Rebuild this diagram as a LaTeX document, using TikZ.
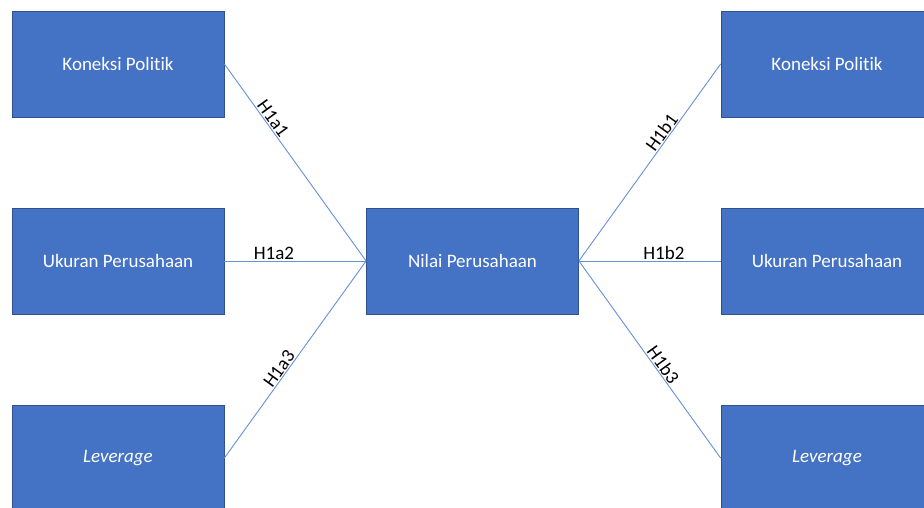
\documentclass[tikz,border=0pt]{standalone}
\usepackage{fontspec}
\setmainfont{Carlito}[Ligatures=NoCommon]
\definecolor{boxfill}{HTML}{4472C4}
\definecolor{boxline}{HTML}{2F528F}
\definecolor{linkline}{RGB}{100,145,215}
\begin{document}
\begin{tikzpicture}[x=1pt, y=-1pt,
    var/.style={draw=boxline, line width=0.8pt, fill=boxfill, text=white,
        minimum width=212pt, minimum height=106pt, inner sep=0pt,
        font=\fontsize{19}{22}\selectfont},
    link/.style={draw=linkline, line width=0.9pt},
    hyp/.style={sloped, above, inner sep=1pt, font=\fontsize{19}{22}\selectfont}]
    \useasboundingbox (0,0) rectangle (924,508);

    % left column: x 12..224
    \node[var] (kpa) at (118,64)  {Koneksi Politik};
    \node[var] (upa) at (118,261) {Ukuran Perusahaan};
    \node[var] (lva) at (118,458) {\itshape Leverage};

    % centre
    \node[var] (nilai) at (472.5,261) {Nilai Perusahaan};

    % right column: x 721..933 (cut at page edge)
    \node[var] (kpb) at (827,64)  {Koneksi Politik};
    \node[var] (upb) at (827,261) {Ukuran Perusahaan};
    \node[var] (lvb) at (827,458) {\itshape Leverage};

    % H1a
    \draw[link] (kpa.east) -- node[hyp, pos=0.30] {H1a1} (nilai.west);
    \draw[link] (upa.east) -- node[hyp, pos=0.35] {H1a2} (nilai.west);
    \draw[link] (lva.east) -- node[hyp, pos=0.43] {H1a3} (nilai.west);

    % H1b
    \draw[link] (nilai.east) -- node[hyp, pos=0.63] {H1b1} (kpb.west);
    \draw[link] (nilai.east) -- node[hyp, pos=0.6] {H1b2} (upb.west);
    \draw[link] (nilai.east) -- node[hyp, pos=0.55] {H1b3} (lvb.west);

\end{tikzpicture}
\end{document}
